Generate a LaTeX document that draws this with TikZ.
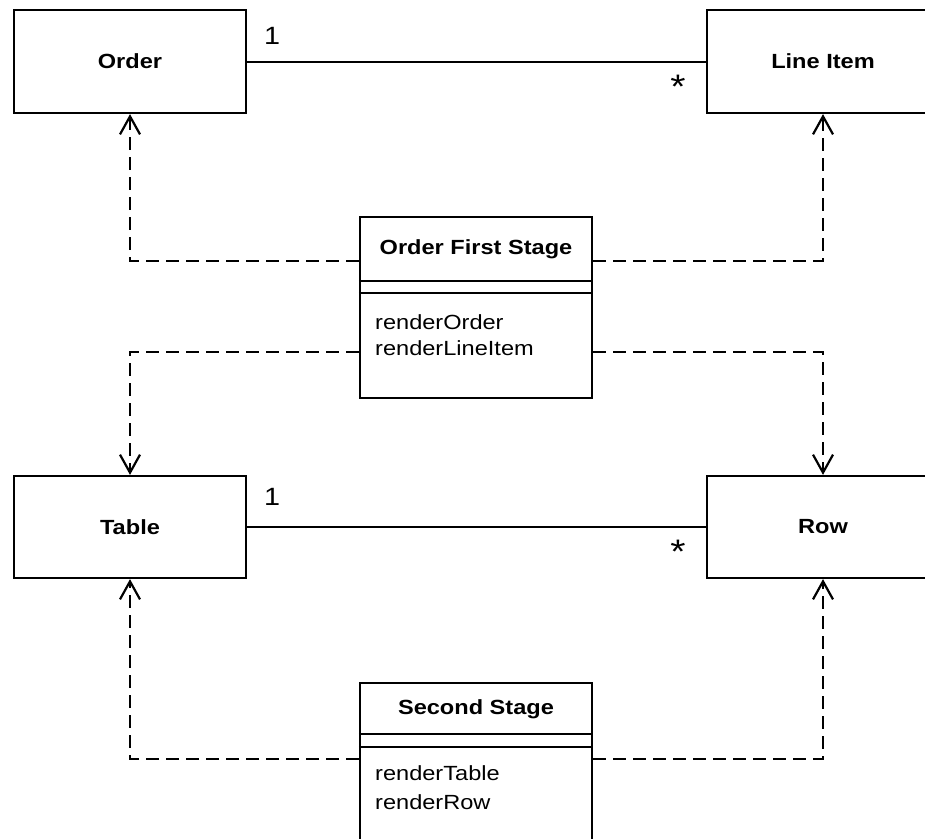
\documentclass[tikz,border=0pt]{standalone}
\usepackage{fontspec}
\setmainfont{Liberation Sans}[FakeStretch=1.15]
\usetikzlibrary{arrows.meta}
\begin{document}
\begin{tikzpicture}[x=1pt,y=-1pt,
  umlbox/.style={draw, line width=2.2pt, minimum width=232pt, inner sep=0pt, fill=white},
  cname/.style={font=\fontsize{20.5}{24}\selectfont\bfseries, inner sep=0pt},
  meth/.style={font=\fontsize{20.5}{24}\selectfont, inner sep=0pt, anchor=west},
  mult/.style={font=\fontsize{25}{28}\selectfont, inner sep=0pt},
  star/.style={font=\fontsize{34}{38}\selectfont, inner sep=0pt},
  assoc/.style={line width=2pt},
  sepline/.style={line width=2.2pt},
  dep/.style={line width=2.2pt, dash pattern=on 13pt off 7pt, line join=miter,
    -{Straight Barb[length=18pt,width=20pt]}}]
\useasboundingbox (0,0) rectangle (925,838);
\clip (0,0) rectangle (925,838);

% plain classes
\node[umlbox, minimum height=103pt] (order) at (130,61.5) {};
\node[cname] (orderT) at (order.center) {Order};
\node[umlbox, minimum height=103pt] (lineitem) at (823,61.5) {};
\node[cname] (lineitemT) at (lineitem.center) {Line Item};
\node[umlbox, minimum height=102pt] (table) at (130,527) {};
\node[cname] (tableT) at (table.center) {Table};
\node[umlbox, minimum height=102pt] (row) at (823,527) {};
\node[cname] (rowT) at (row.center) {Row};

% Order First Stage
\node[umlbox, minimum height=181pt] (ofs) at (476,307.5) {};
\node[cname] (ofsT) at (476,249.5) {Order First Stage};
\draw[sepline] ([yshift=-65pt]ofs.north west) -- ([yshift=-65pt]ofs.north east);
\draw[sepline] ([yshift=-77pt]ofs.north west) -- ([yshift=-77pt]ofs.north east);
\node[meth] (ofsM1) at (375,322) {renderOrder};
\node[meth] (ofsM2) at (375,348) {renderLineItem};

% Second Stage
\node[umlbox, minimum height=177pt] (ss) at (476,771.5) {};
\node[cname] (ssT) at (476,709) {Second Stage};
\draw[sepline] ([yshift=-52pt]ss.north west) -- ([yshift=-52pt]ss.north east);
\draw[sepline] ([yshift=-65pt]ss.north west) -- ([yshift=-65pt]ss.north east);
\node[meth] (ssM1) at (375,773) {renderTable};
\node[meth] (ssM2) at (375,802) {renderRow};

% associations
\draw[assoc] (order.east) -- (lineitem.west);
\node[mult] (m1) at (272,36) {1};
\node[star] (m2) at (678,87) {*};
\draw[assoc] (table.east) -- (row.west);
\node[mult] (m3) at (272,497) {1};
\node[star] (m4) at (678,552) {*};

% dependencies
\draw[dep] ([yshift=-45pt]ofs.north west) -| (order.south);
\draw[dep] ([yshift=-45pt]ofs.north east) -| (lineitem.south);
\draw[dep] ([yshift=-136pt]ofs.north west) -| (table.north);
\draw[dep] ([yshift=-136pt]ofs.north east) -| (row.north);
\draw[dep] ([yshift=-77pt]ss.north west) -| (table.south);
\draw[dep] ([yshift=-77pt]ss.north east) -| (row.south);
\end{tikzpicture}
\end{document}
